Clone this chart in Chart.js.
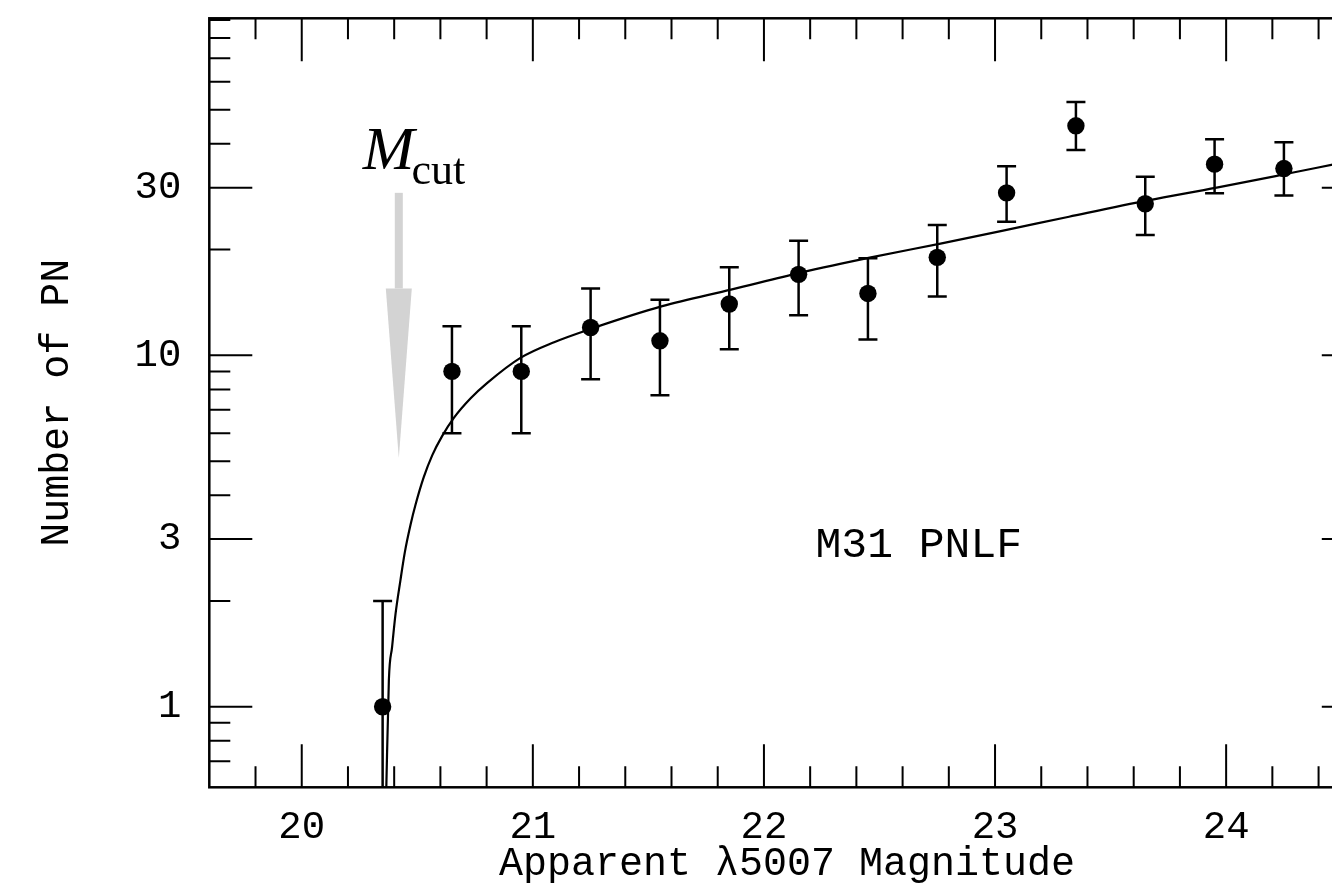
<!DOCTYPE html>
<html>
<head>
<meta charset="utf-8">
<title>M31 PNLF</title>
<script src="https://cdn.jsdelivr.net/npm/chart.js@4.4.1/dist/chart.umd.min.js"></script>
<style>
  html, body { margin: 0; padding: 0; background: #fff; overflow: hidden; }
  #wrap { position: relative; width: 1400px; height: 891px; }
</style>
</head>
<body>
<div id="wrap"><canvas id="pnlf" width="1400" height="891"></canvas></div>
<script>
/* ── binned PN counts, 0.3 mag bins ── */
const binMags  = [20.35, 20.65, 20.95, 21.25, 21.55, 21.85, 22.15, 22.45, 22.75, 23.05, 23.35, 23.65, 23.95, 24.25];
const pnCounts = [1, 9, 9, 12, 11, 14, 17, 15, 19, 29, 45, 27, 35, 34];
const errLow   = [0.01, 6.0, 6.0, 8.55, 7.7, 10.4, 13.0, 11.1, 14.7, 24.0, 38.4, 22.0, 28.9, 28.5];
const errHigh  = [2.0, 12.1, 12.1, 15.5, 14.4, 17.8, 21.2, 18.9, 23.5, 34.5, 52.6, 32.2, 41.2, 40.4];

/* ── fitted luminosity function ── */
const fitMags   = [20.365, 20.377, 20.391, 20.406, 20.427, 20.446, 20.471, 20.492, 20.528, 20.565,
                   20.608, 20.659, 20.731, 20.803, 20.948, 21.092, 21.26, 21.56, 21.862, 22.16,
                   22.463, 22.764, 23.03, 23.32, 23.662, 23.959, 24.258, 24.471, 24.6];
const fitCounts = [0.55, 1.19, 1.48, 1.84, 2.29, 2.75, 3.3, 3.75, 4.5, 5.2,
                   5.9, 6.65, 7.55, 8.35, 9.85, 10.9, 11.95, 13.8, 15.4, 17.2,
                   19.0, 20.8, 22.6, 24.8, 27.6, 30.0, 32.8, 35.0, 36.4];

/* ── axis ticks ── */
const xLabelTicks = [20, 21, 22, 23, 24];
const xMinorTicks = [19.8, 20.2, 20.4, 20.6, 20.8, 21.2, 21.4, 21.6, 21.8, 22.2, 22.4, 22.6, 22.8,
                     23.2, 23.4, 23.6, 23.8, 24.2, 24.4];
const yLabelTicks = [1, 3, 10, 30];
const yMinorTicks = [0.7, 0.8, 0.9, 2, 4, 5, 6, 7, 8, 9, 20, 40, 50, 60, 70, 80, 90];

const cutMag = 20.42;          // M_cut marker
const panelName = 'M31 PNLF';

const MONO = "'Liberation Mono', 'DejaVu Sans Mono', monospace";
const SERIF = "'Liberation Serif', 'DejaVu Serif', serif";

// error bars with end caps
const errorBars = {
  id: 'errorBars',
  afterDatasetsDraw(chart) {
    const { ctx, chartArea: a, scales: { x, y } } = chart;
    ctx.save();
    ctx.beginPath();
    ctx.rect(a.left, a.top, a.right - a.left, a.bottom - a.top);
    ctx.clip();
    ctx.strokeStyle = '#000';
    ctx.lineWidth = 2.5;
    binMags.forEach((m, i) => {
      const px = x.getPixelForValue(m);
      const top = y.getPixelForValue(errHigh[i]);
      const bot = y.getPixelForValue(errLow[i]);
      ctx.beginPath();
      ctx.moveTo(px, top); ctx.lineTo(px, bot);
      ctx.moveTo(px - 9.5, top); ctx.lineTo(px + 9.5, top);
      ctx.moveTo(px - 9.5, bot); ctx.lineTo(px + 9.5, bot);
      ctx.stroke();
    });
    ctx.restore();
  }
};

// box frame with inward ticks on all four sides
const frameTicks = {
  id: 'frameTicks',
  afterDraw(chart) {
    const { ctx, chartArea: a, scales: { x, y } } = chart;
    const major = 43, minor = 21;
    ctx.save();
    ctx.strokeStyle = '#000';
    ctx.lineWidth = 2;
    ctx.beginPath();
    const xt = (v, len) => {
      const p = x.getPixelForValue(v);
      ctx.moveTo(p, a.bottom); ctx.lineTo(p, a.bottom - len);
      ctx.moveTo(p, a.top); ctx.lineTo(p, a.top + len);
    };
    const yt = (v, len) => {
      const p = y.getPixelForValue(v);
      ctx.moveTo(a.left, p); ctx.lineTo(a.left + len, p);
      ctx.moveTo(a.right, p); ctx.lineTo(a.right - len, p);
    };
    xLabelTicks.forEach(v => xt(v, major));
    xMinorTicks.forEach(v => xt(v, minor));
    yLabelTicks.forEach(v => yt(v, major));
    yMinorTicks.forEach(v => yt(v, minor));
    ctx.stroke();
    ctx.lineWidth = 2.5;
    ctx.strokeRect(a.left, a.top, a.right - a.left, a.bottom - a.top);
    ctx.restore();
  }
};

// M_cut arrow and panel label
const notes = {
  id: 'notes',
  afterDraw(chart) {
    const { ctx, scales: { x, y } } = chart;
    const ax = x.getPixelForValue(cutMag);
    const yTop = y.getPixelForValue(29);
    const yHead = y.getPixelForValue(15.5);
    const yTip = y.getPixelForValue(5.1);
    ctx.save();
    ctx.fillStyle = '#d3d3d3';
    ctx.fillRect(ax - 4, yTop, 8, yHead - yTop);
    ctx.beginPath();
    ctx.moveTo(ax - 13, yHead);
    ctx.lineTo(ax + 13, yHead);
    ctx.lineTo(ax, yTip);
    ctx.closePath();
    ctx.fill();

    ctx.fillStyle = '#000';
    ctx.textBaseline = 'alphabetic';
    ctx.textAlign = 'left';
    ctx.font = `italic 62px ${SERIF}`;
    const mx = ax - 36;
    ctx.fillText('M', mx, yTop - 24);
    const mw = ctx.measureText('M').width;
    ctx.font = `44px ${SERIF}`;
    ctx.fillText('cut', mx + mw - 3, yTop - 9);

    ctx.font = `43px ${MONO}`;
    ctx.textAlign = 'center';
    ctx.textBaseline = 'middle';
    ctx.fillText(panelName, x.getPixelForValue(22.67), y.getPixelForValue(2.88));
    ctx.restore();
  }
};

const tickFont = { family: MONO, size: 39 };

new Chart(document.getElementById('pnlf'), {
  type: 'scatter',
  data: {
    datasets: [
      {
        label: 'fit',
        data: fitMags.map((m, i) => ({ x: m, y: fitCounts[i] })),
        showLine: true,
        borderColor: '#000',
        borderWidth: 2.2,
        pointRadius: 0,
        cubicInterpolationMode: 'monotone',
        fill: false,
      },
      {
        label: 'PN',
        data: binMags.map((m, i) => ({ x: m, y: pnCounts[i] })),
        showLine: false,
        pointRadius: 8.7,
        pointBackgroundColor: '#000',
        pointBorderColor: '#000',
        pointBorderWidth: 0,
      },
    ],
  },
  options: {
    responsive: false,
    animation: false,
    devicePixelRatio: 1,
    layout: { padding: { top: 18.3, right: 35.2, left: 0, bottom: 0 } },
    plugins: { legend: { display: false }, tooltip: { enabled: false } },
    scales: {
      x: {
        type: 'linear',
        min: 19.6,
        max: 24.6,
        grid: { display: false, drawTicks: false },
        border: { display: false },
        afterBuildTicks: s => { s.ticks = xLabelTicks.map(v => ({ value: v })); },
        afterFit: s => { s.height = 103.7; s.paddingLeft = 0; s.paddingRight = 0; },
        ticks: { font: tickFont, color: '#000', padding: 17, maxRotation: 0, autoSkip: false,
                 callback: v => String(v) },
        title: { display: true, text: 'Apparent λ5007 Magnitude', color: '#000',
                 font: { family: MONO, size: 40 }, padding: { top: 0, bottom: 3 } },
      },
      y: {
        type: 'logarithmic',
        min: 0.59,
        max: 91,
        grid: { display: false, drawTicks: false },
        border: { display: false },
        afterBuildTicks: s => { s.ticks = yLabelTicks.map(v => ({ value: v })); },
        afterFit: s => { s.width = 209.3; s.paddingTop = 0; s.paddingBottom = 0; },
        ticks: { font: tickFont, color: '#000', padding: 28, autoSkip: false,
                 callback: v => String(v) },
        title: { display: true, text: 'Number of PN', color: '#000',
                 font: { family: MONO, size: 40 }, padding: { top: 33, bottom: 0 } },
      },
    },
  },
  plugins: [errorBars, frameTicks, notes],
});
</script>
</body>
</html>
